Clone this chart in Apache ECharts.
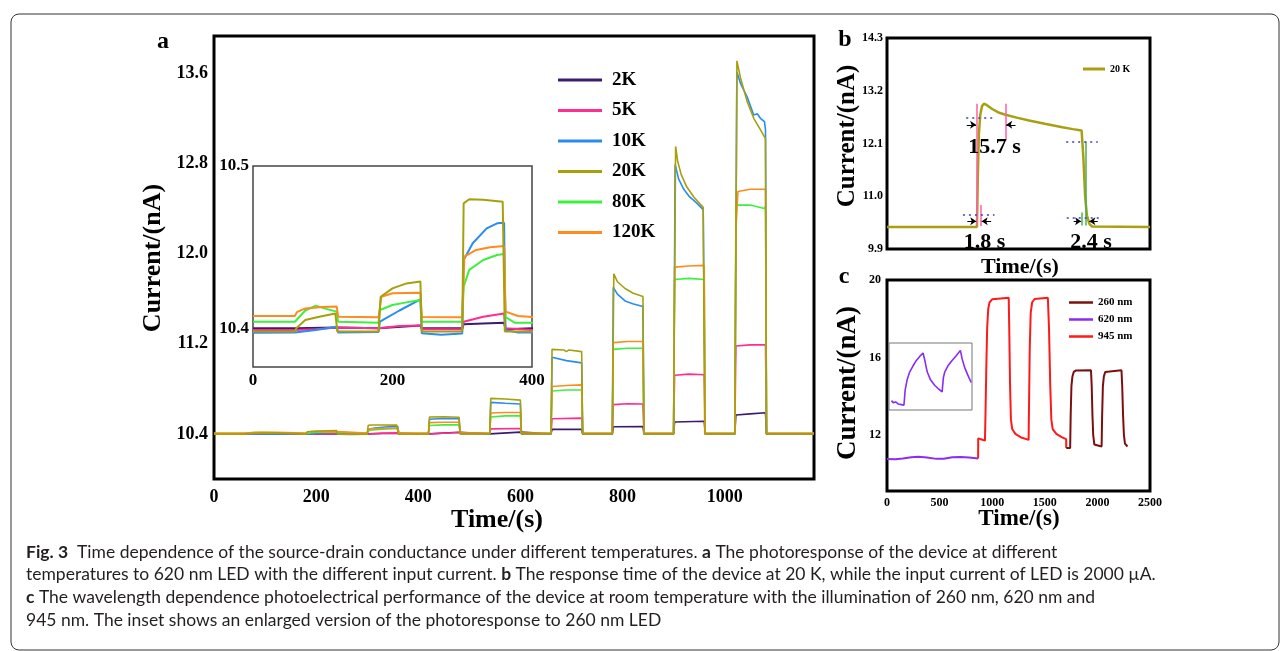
<!DOCTYPE html>
<html>
<head>
<meta charset="utf-8">
<script src="https://cdn.jsdelivr.net/npm/echarts@6/dist/echarts.min.js"></script>
<style>
  html, body { margin: 0; padding: 0; background: #fff; }
  #main { width: 1287px; height: 651px; }
</style>
</head>
<body>
<div id="main"></div>
<script>
// ---- panel a : current (nA) vs time (s) at each temperature ----
var temps = ['2K', '5K', '10K', '20K', '80K', '120K'];
var curve2K = [[0,10.400],[60,10.400],[62,10.4005],[120,10.4005],[121,10.400],[180,10.400],[182,10.4012],[240,10.4018],[242,10.400],[300,10.400],[302,10.4025],[330,10.4030],[360,10.4035],[362,10.3995],[400,10.400],[420,10.400],[422,10.412],[480,10.415],[482,10.400],[540,10.400],[542,10.413],[600,10.416],[602,10.400],[660,10.400],[662,10.440],[720,10.442],[722,10.400],[780,10.400],[782,10.463],[840,10.466],[842,10.400],[900,10.400],[902,10.505],[960,10.512],[962,10.400],[1020,10.400],[1022,10.568],[1050,10.578],[1080,10.588],[1082,10.400],[1175,10.400]];
var curve5K = [[0,10.399],[60,10.399],[90,10.3995],[120,10.4005],[122,10.3995],[180,10.400],[182,10.401],[210,10.4015],[240,10.4018],[242,10.3995],[300,10.3995],[302,10.4041],[330,10.4072],[360,10.4092],[362,10.400],[400,10.399],[420,10.399],[422,10.410],[480,10.413],[482,10.400],[540,10.400],[542,10.445],[600,10.448],[602,10.400],[660,10.400],[662,10.535],[720,10.540],[722,10.400],[780,10.400],[782,10.660],[810,10.668],[840,10.665],[842,10.400],[900,10.400],[902,10.920],[930,10.930],[960,10.925],[962,10.400],[1020,10.400],[1022,11.180],[1050,11.190],[1080,11.190],[1082,10.400],[1175,10.400]];
var curve10K = [[0,10.3973],[60,10.3975],[90,10.399],[120,10.401],[122,10.3975],[180,10.3978],[182,10.4041],[210,10.411],[240,10.4179],[242,10.397],[270,10.396],[300,10.3968],[302,10.4421],[315,10.4524],[335,10.4616],[350,10.4647],[360,10.4651],[362,10.399],[380,10.3975],[420,10.3975],[422,10.530],[450,10.537],[480,10.535],[482,10.400],[540,10.400],[542,10.680],[570,10.672],[600,10.665],[602,10.400],[660,10.400],[662,11.080],[690,11.050],[720,11.030],[722,10.400],[780,10.400],[782,11.700],[790,11.640],[805,11.580],[820,11.555],[840,11.530],[842,10.400],[900,10.400],[903,12.790],[910,12.660],[920,12.570],[930,12.510],[945,12.450],[958,12.390],[962,10.400],[1020,10.400],[1024,13.610],[1031,13.510],[1044,13.390],[1057,13.230],[1064,13.240],[1070,13.200],[1078,13.170],[1080,13.100],[1082,10.400],[1175,10.400]];
var curve20K = [[0,10.398],[60,10.398],[62,10.400],[75,10.4051],[95,10.4072],[118,10.4092],[121,10.398],[180,10.398],[183,10.4195],[200,10.4246],[220,10.4277],[240,10.4288],[242,10.398],[300,10.398],[302,10.477],[310,10.4795],[330,10.4792],[358,10.478],[361,10.398],[420,10.398],[422,10.550],[450,10.552],[480,10.548],[482,10.400],[540,10.400],[542,10.715],[570,10.710],[600,10.700],[602,10.400],[660,10.400],[662,11.150],[685,11.145],[690,11.130],[695,11.145],[720,11.130],[722,10.400],[780,10.400],[783,11.820],[790,11.750],[805,11.690],[820,11.650],[840,11.620],[842,10.400],[900,10.400],[904,12.950],[908,12.820],[915,12.700],[926,12.590],[940,12.500],[958,12.410],[961,10.400],[1020,10.400],[1024,13.710],[1031,13.560],[1044,13.350],[1057,13.200],[1070,13.100],[1080,13.020],[1082,10.400],[1175,10.400]];
var curve80K = [[0,10.4041],[60,10.4041],[75,10.411],[90,10.414],[105,10.412],[120,10.4103],[122,10.4041],[180,10.4035],[182,10.4113],[200,10.4144],[220,10.416],[240,10.4175],[242,10.4041],[300,10.4041],[302,10.4257],[310,10.436],[330,10.4421],[350,10.4452],[360,10.4458],[362,10.407],[375,10.4035],[400,10.4035],[420,10.404],[422,10.475],[450,10.480],[480,10.480],[482,10.404],[540,10.404],[542,10.550],[570,10.560],[600,10.560],[602,10.404],[660,10.404],[662,10.780],[690,10.790],[720,10.790],[722,10.404],[780,10.404],[782,11.150],[810,11.160],[840,11.160],[842,10.404],[900,10.404],[902,11.770],[930,11.780],[960,11.770],[962,10.404],[1020,10.404],[1022,12.430],[1050,12.430],[1078,12.400],[1080,12.420],[1082,10.404],[1175,10.404]];
var curve120K = [[0,10.4076],[60,10.4076],[63,10.410],[75,10.4123],[100,10.4132],[120,10.4134],[122,10.4072],[180,10.4068],[184,10.4195],[200,10.4216],[240,10.422],[242,10.407],[300,10.4068],[303,10.4442],[320,10.4483],[340,10.450],[360,10.4507],[362,10.4103],[380,10.4076],[400,10.407],[420,10.407],[422,10.500],[450,10.503],[480,10.504],[482,10.407],[540,10.407],[542,10.585],[570,10.590],[600,10.590],[602,10.407],[660,10.407],[662,10.820],[690,10.830],[720,10.835],[722,10.407],[780,10.407],[782,11.210],[810,11.220],[840,11.220],[842,10.407],[900,10.407],[902,11.880],[930,11.890],[960,11.895],[962,10.407],[1020,10.407],[1022,12.200],[1026,12.550],[1050,12.570],[1080,12.570],[1082,10.407],[1175,10.407]];
var ticksAX = [0, 200, 400, 600, 800, 1000];
var ticksAY = [10.4, 11.2, 12.0, 12.8, 13.6];
var ticksInsetX = [0, 200, 400];
var ticksInsetY = [10.4, 10.5];

// ---- panel b : response time at 20 K ----
var curveB = [[0,10.36],[51.3,10.36],[51.8,11.4],[52.4,12.3],[53.2,12.7],[54.2,12.88],[55.3,12.93],[57,12.9],[60,12.82],[64,12.74],[67.6,12.70],[74,12.64],[81,12.58],[90,12.51],[100,12.44],[106,12.40],[111,12.37],[112,11.8],[113,11.0],[114,10.6],[115.5,10.42],[117,10.37],[150,10.36]];
var ticksBY = [9.9, 11.0, 12.1, 13.2, 14.3];
var pinkGuides = [[[51.1,12.93],[51.1,10.40]], [[67.6,12.93],[67.6,12.16]], [[53.7,10.82],[53.7,10.38]]];
var blueGuides = [[[45.2,12.64],[60.4,12.64]], [[43.3,10.61],[61.3,10.61]], [[102.2,12.14],[120.2,12.14]], [[102.5,10.55],[120.8,10.55]]];
var greenGuides = [[[113.5,12.14],[113.5,10.39]], [[111.1,10.66],[111.1,10.39]]];
var arrowGuides = [[[45.5,12.49],[50.8,12.49]], [[73.3,12.49],[68.0,12.49]], [[45.8,10.48],[50.9,10.48]], [[59.4,10.48],[54.0,10.48]], [[106.5,10.48],[110.7,10.48]], [[120.2,10.48],[115.4,10.48]]];
var timeNotes = [['15.7 s', 61.3, 12.02], ['1.8 s', 55.6, 10.03], ['2.4 s', 116.4, 10.03]];

// ---- panel c : wavelength dependence at room temperature ----
var curve620 = [[0,10.75],[80,10.74],[150,10.78],[230,10.84],[300,10.87],[380,10.83],[470,10.76],[540,10.77],[620,10.84],[700,10.86],[780,10.83],[866,10.78]];
var curve945 = [[866,10.78],[867,11.82],[900,11.76],[931,11.7],[936,13.0],[944,15.5],[952,17.5],[962,18.5],[975,18.85],[1000,19.0],[1080,19.05],[1157,19.08],[1162,17.5],[1170,14.5],[1178,12.8],[1190,12.3],[1220,12.05],[1270,11.88],[1346,11.74],[1350,13.5],[1357,16.5],[1366,18.3],[1380,18.85],[1403,19.02],[1529,19.08],[1540,17.5],[1552,14.5],[1562,12.8],[1575,12.3],[1610,12.05],[1660,11.88],[1703,11.78],[1704,11.32]];
var curve260 = [[1704,11.32],[1741,11.32],[1746,13.0],[1753,14.5],[1762,15.0],[1775,15.25],[1797,15.33],[1939,15.34],[1946,14.5],[1953,13.0],[1960,12.0],[1971,11.5],[1990,11.4],[2040,11.4],[2045,13.0],[2052,14.5],[2061,15.0],[2074,15.25],[2090,15.33],[2229,15.34],[2236,14.5],[2244,13.0],[2252,12.0],[2262,11.55],[2286,11.4]];
// inset of panel c, arbitrary units
var insetC = [[3,14],[5,11],[8,12],[11,9],[15,8],[18,7],[19.5,30],[22,46],[25,57],[29,66],[33,74],[37,80],[41,85],[43,75],[46,57],[50,45],[55,37],[60,31],[64,27],[65.5,48],[67,56],[71,66],[76,74],[81,81],[86,89],[88,77],[91,64],[95,52],[99,41]];
var ticksCY = [12, 16, 20];
var ticksCX = [0, 500, 1000, 1500, 2000, 2500];

var captionLines = [
  '{b|Fig. 3}  Time dependence of the source-drain conductance under different temperatures. {b|a} The photoresponse of the device at different',
  'temperatures to 620 nm LED with the different input current. {b|b} The response time of the device at 20 K, while the input current of LED is 2000 \u00b5A.',
  '{b|c} The wavelength dependence photoelectrical performance of the device at room temperature with the illumination of 260 nm, 620 nm and',
  '945 nm. The inset shows an enlarged version of the photoresponse to 260 nm LED'
];

var serif = '"Liberation Serif", "Times New Roman", serif';
var tempColors = {'2K': '#3b1d6e', '5K': '#ff2d8f', '10K': '#2a8cf0', '20K': '#a6a00c', '80K': '#3cf03c', '120K': '#ff8a1e'};
var tempData = {'2K': curve2K, '5K': curve5K, '10K': curve10K, '20K': curve20K, '80K': curve80K, '120K': curve120K};
var drawOrder = ['2K', '5K', '10K', '80K', '120K', '20K'];

function labelStyle(size) {
  return { fontFamily: serif, fontWeight: 'bold', fontSize: size, color: '#000' };
}

function makeAxis(gridIndex, min, max, labels, size, margin, fmt) {
  return {
    type: 'value', gridIndex: gridIndex, min: min, max: max,
    axisLine: { show: false }, axisTick: { show: false }, splitLine: { show: false },
    axisLabel: Object.assign(labelStyle(size), {
      show: !!labels, margin: margin, customValues: labels || undefined,
      formatter: fmt || function (v) { return String(v); }
    })
  };
}
var oneDec = function (v) { return v.toFixed(1); };

var series = [];
drawOrder.forEach(function (t) {
  series.push({ name: t, type: 'line', xAxisIndex: 0, yAxisIndex: 0, data: tempData[t],
    color: tempColors[t], showSymbol: false, symbol: 'none', lineStyle: { width: 1.6 } });
});
drawOrder.forEach(function (t) {
  series.push({ name: t, type: 'line', xAxisIndex: 1, yAxisIndex: 1, data: tempData[t],
    color: tempColors[t], showSymbol: false, symbol: 'none', lineStyle: { width: 2 } });
});

function guideLines(list, style, endSymbol) {
  return list.map(function (g) {
    return [
      { coord: g[0], symbol: 'none', lineStyle: style },
      { coord: g[1], symbol: endSymbol || 'none', symbolSize: 6 }
    ];
  });
}
var bGuides = []
  .concat(guideLines(pinkGuides, { color: '#ff5fa8', width: 1.5, type: 'solid' }))
  .concat(guideLines(greenGuides, { color: '#4caf50', width: 1.5, type: 'solid' }))
  .concat(guideLines(blueGuides, { color: '#3340c8', width: 1.5, type: [2, 4] }))
  .concat(guideLines(arrowGuides, { color: '#000', width: 1, type: 'solid' }, 'arrow'));

series.push({
  name: '20 K', type: 'line', xAxisIndex: 2, yAxisIndex: 2, data: curveB,
  color: '#a8a010', showSymbol: false, symbol: 'none', lineStyle: { width: 2.5 },
  markLine: { silent: true, animation: false, label: { show: false }, symbol: ['none', 'none'], data: bGuides },
  markPoint: {
    silent: true, animation: false, symbol: 'circle', symbolSize: 0,
    label: Object.assign(labelStyle(22), { show: true, position: 'inside', formatter: function (p) { return p.name; } }),
    data: timeNotes.map(function (n) { return { name: n[0], coord: [n[1], n[2]] }; })
  }
});

series.push({ name: '620 nm', type: 'line', xAxisIndex: 3, yAxisIndex: 3, data: curve620,
  color: '#8a2cf5', showSymbol: false, symbol: 'none', lineStyle: { width: 2 } });
series.push({ name: '945 nm', type: 'line', xAxisIndex: 3, yAxisIndex: 3, data: curve945,
  color: '#ff1a1a', showSymbol: false, symbol: 'none', lineStyle: { width: 2 } });
series.push({ name: '260 nm', type: 'line', xAxisIndex: 3, yAxisIndex: 3, data: curve260,
  color: '#7a1010', showSymbol: false, symbol: 'none', lineStyle: { width: 2 } });
series.push({ name: '620 nm inset', type: 'line', xAxisIndex: 4, yAxisIndex: 4, data: insetC,
  color: '#8a2cf5', showSymbol: false, symbol: 'none', lineStyle: { width: 1.6 } });

var graphics = [
  { type: 'rect', shape: { x: 11, y: 14, width: 1268, height: 636, r: 8 }, style: { fill: 'none', stroke: '#333', lineWidth: 1 } },
  { type: 'text', x: 163, y: 42, style: { text: 'a', font: 'bold 24px ' + serif, fill: '#000', align: 'center', verticalAlign: 'middle' } },
  { type: 'text', x: 845, y: 40, style: { text: 'b', font: 'bold 24px ' + serif, fill: '#000', align: 'center', verticalAlign: 'middle' } },
  { type: 'text', x: 844, y: 277, style: { text: 'c', font: 'bold 24px ' + serif, fill: '#000', align: 'center', verticalAlign: 'middle' } },
  { type: 'text', x: 153, y: 258, rotation: Math.PI / 2, style: { text: 'Current/(nA)', font: 'bold 26px ' + serif, fill: '#000', align: 'center', verticalAlign: 'middle' } },
  { type: 'text', x: 497, y: 520, style: { text: 'Time/(s)', font: 'bold 26px ' + serif, fill: '#000', align: 'center', verticalAlign: 'middle' } },
  { type: 'text', x: 848, y: 136, rotation: Math.PI / 2, style: { text: 'Current/(nA)', font: 'bold 25px ' + serif, fill: '#000', align: 'center', verticalAlign: 'middle' } },
  { type: 'text', x: 1020, y: 267, style: { text: 'Time/(s)', font: 'bold 22px ' + serif, fill: '#000', align: 'center', verticalAlign: 'middle' } },
  { type: 'text', x: 848, y: 383, rotation: Math.PI / 2, style: { text: 'Current/(nA)', font: 'bold 27px ' + serif, fill: '#000', align: 'center', verticalAlign: 'middle' } },
  { type: 'text', x: 1019, y: 519, style: { text: 'Time/(s)', font: 'bold 23px ' + serif, fill: '#000', align: 'center', verticalAlign: 'middle' } }
];
captionLines.forEach(function (line, i) {
  graphics.push({
    type: 'text', x: 26, y: 552 + i * 22.7,
    style: {
      text: line, fontFamily: 'Lato', fontSize: 17.5, fill: '#231f20', verticalAlign: 'middle',
      rich: { b: { fontFamily: 'Lato', fontSize: 17.5, fontWeight: 'bold', fill: '#231f20' } }
    }
  });
});

var chart = echarts.init(document.getElementById('main'), null, { renderer: 'canvas' });
chart.setOption({
  animation: false,
  backgroundColor: '#fff',
  grid: [
    { left: 214, top: 36, width: 600, height: 443, show: true, borderColor: '#000', borderWidth: 3 },
    { left: 253, top: 166, width: 279, height: 201, show: true, borderColor: '#444', borderWidth: 1.5, backgroundColor: '#fff' },
    { left: 887, top: 38, width: 263, height: 211, show: true, borderColor: '#000', borderWidth: 3 },
    { left: 887, top: 280, width: 263, height: 211, show: true, borderColor: '#000', borderWidth: 3 },
    { left: 889, top: 343, width: 83, height: 67, show: true, borderColor: '#777', borderWidth: 1, backgroundColor: '#fff' }
  ],
  xAxis: [
    makeAxis(0, 0, 1175, ticksAX, 18, 9),
    makeAxis(1, 0, 400, ticksInsetX, 17, 5),
    makeAxis(2, 0, 150, null, 12, 4),
    makeAxis(3, 0, 2500, ticksCX, 12, 6),
    makeAxis(4, 0, 100, null, 10, 4)
  ],
  yAxis: [
    makeAxis(0, 10.0, 13.93, ticksAY, 18, 6, oneDec),
    makeAxis(1, 10.3762, 10.5, ticksInsetY, 17, 4, oneDec),
    makeAxis(2, 9.9, 14.3, ticksBY, 12, 4, oneDec),
    makeAxis(3, 9.1, 20, ticksCY, 12, 6),
    makeAxis(4, 0, 100, null, 10, 4)
  ],
  legend: [
    { data: temps, orient: 'vertical', left: 558, top: 70, padding: 0, itemWidth: 44, itemHeight: 3, itemGap: 10.5,
      icon: 'rect', selectedMode: false, textStyle: Object.assign(labelStyle(19), { lineHeight: 20, padding: [0, 0, 0, 5] }) },
    { data: ['20 K'], orient: 'vertical', left: 1083, top: 63, padding: 0, itemWidth: 22, itemHeight: 3,
      icon: 'rect', selectedMode: false, textStyle: Object.assign(labelStyle(10), { lineHeight: 12 }) },
    { data: ['260 nm', '620 nm', '945 nm'], orient: 'vertical', left: 1069, top: 296, padding: 0, itemWidth: 24, itemHeight: 2.5, itemGap: 4,
      icon: 'rect', selectedMode: false, textStyle: Object.assign(labelStyle(11), { lineHeight: 13 }) }
  ],
  graphic: graphics,
  series: series
});
</script>
</body>
</html>
